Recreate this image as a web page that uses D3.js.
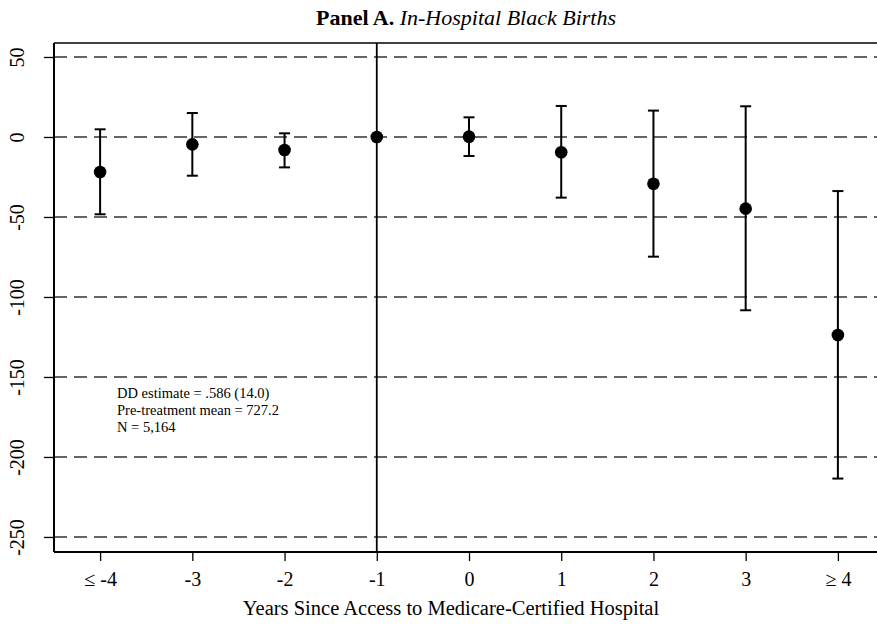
<!DOCTYPE html>
<html>
<head>
<meta charset="utf-8">
<script src="https://cdn.jsdelivr.net/npm/d3@7"></script>
<style>
  body { margin: 0; background: #fff; }
  svg text { font-family: "Liberation Serif", "DejaVu Serif", serif; fill: #000; }
</style>
</head>
<body>
<svg id="chart"></svg>
<script>
// event-study coefficients
const categories = ["\u2264 -4", "-3", "-2", "-1", "0", "1", "2", "3", "\u2265 4"];
const estimates = [-21.9, -4.6, -8.1, 0, 0.2, -9.5, -29.2, -44.8, -123.8];
const ciLower = [-48.3, -24.2, -19, null, -11.9, -37.9, -74.8, -108.3, -213.5];
const ciUpper = [4.8, 15, 2.3, null, 12.3, 19.4, 16.5, 19.2, -33.8];
const yTicks = [50, 0, -50, -100, -150, -200, -250];
const notes = ["DD estimate = .586 (14.0)", "Pre-treatment mean = 727.2", "N = 5,164"];

const width = 877, height = 625;
const plotLeft = 54, plotTop = 43, plotBottom = 552, plotRight = 884;
const serif = "'Liberation Serif', 'DejaVu Serif', serif";

const svg = d3.select("#chart")
    .attr("width", width)
    .attr("height", height);

const x = d3.scaleLinear()
    .domain([-0.5, categories.length - 0.5])
    .range([plotLeft, plotRight]);

const y = d3.scaleLinear()
    .domain([-259.4, 58.75])
    .range([plotBottom, plotTop]);

// dashed horizontal grid
svg.append("g")
    .selectAll("line")
    .data(yTicks)
    .enter().append("line")
    .attr("x1", plotLeft)
    .attr("x2", width)
    .attr("y1", d => y(d))
    .attr("y2", d => y(d))
    .attr("stroke", "#333")
    .attr("stroke-width", 1.4)
    .attr("stroke-dasharray", "13,7");

// reference line at t = -1
svg.append("line")
    .attr("x1", x(3)).attr("x2", x(3))
    .attr("y1", plotTop).attr("y2", plotBottom)
    .attr("stroke", "#000")
    .attr("stroke-width", 1.8);

// frame: top border
svg.append("line")
    .attr("x1", plotLeft).attr("x2", width)
    .attr("y1", plotTop).attr("y2", plotTop)
    .attr("stroke", "#000")
    .attr("stroke-width", 1.6);

// y axis
const yAxis = svg.append("g")
    .attr("transform", `translate(${plotLeft},0)`)
    .call(d3.axisLeft(y).tickValues(yTicks).tickSize(10).tickPadding(0).tickFormat(d => String(d)))
    .attr("font-family", serif)
    .attr("font-size", 20);
yAxis.select(".domain").attr("d", `M0,${plotTop}V${plotBottom}`).attr("stroke-width", 2);
yAxis.selectAll(".tick line").attr("stroke-width", 1.3);
yAxis.selectAll(".tick text")
    .attr("x", null)
    .attr("text-anchor", "middle")
    .attr("transform", "translate(-37,0) rotate(-90)")
    .attr("dy", "0.35em");

// x axis
const xAxis = svg.append("g")
    .attr("transform", `translate(0,${plotBottom})`)
    .call(d3.axisBottom(x).tickValues(d3.range(categories.length)).tickSize(9).tickPadding(11)
        .tickFormat(i => categories[i]))
    .attr("font-family", serif)
    .attr("font-size", 20);
xAxis.select(".domain").attr("d", `M${plotLeft},0H${width}`).attr("stroke-width", 2);
xAxis.selectAll(".tick line").attr("stroke-width", 1.3);

// confidence intervals
const bars = svg.append("g")
    .selectAll("g")
    .data(categories.map((c, i) => i).filter(i => ciLower[i] !== null))
    .enter().append("g")
    .attr("stroke", "#000")
    .attr("stroke-width", 2);

bars.append("line")
    .attr("x1", i => x(i)).attr("x2", i => x(i))
    .attr("y1", i => y(ciUpper[i])).attr("y2", i => y(ciLower[i]));
bars.append("line")
    .attr("x1", i => x(i) - 5.5).attr("x2", i => x(i) + 5.5)
    .attr("y1", i => y(ciUpper[i])).attr("y2", i => y(ciUpper[i]));
bars.append("line")
    .attr("x1", i => x(i) - 5.5).attr("x2", i => x(i) + 5.5)
    .attr("y1", i => y(ciLower[i])).attr("y2", i => y(ciLower[i]));

// point estimates
svg.append("g")
    .selectAll("circle")
    .data(estimates)
    .enter().append("circle")
    .attr("cx", (d, i) => x(i))
    .attr("cy", d => y(d))
    .attr("r", 6.3)
    .attr("fill", "#000");

// notes
svg.append("g")
    .selectAll("text")
    .data(notes)
    .enter().append("text")
    .attr("x", 117)
    .attr("y", (d, i) => 398 + i * 17)
    .style("font-size", "14.5px")
    .text(d => d);

// titles
const title = svg.append("text")
    .attr("x", 466)
    .attr("y", 25)
    .attr("text-anchor", "middle")
    .style("font-size", "22px");
title.append("tspan").style("font-weight", "bold").text("Panel A. ");
title.append("tspan").style("font-style", "italic").text("In-Hospital Black Births");

svg.append("text")
    .attr("x", 451)
    .attr("y", 615)
    .attr("text-anchor", "middle")
    .style("font-size", "20.5px")
    .text("Years Since Access to Medicare-Certified Hospital");
</script>
</body>
</html>
